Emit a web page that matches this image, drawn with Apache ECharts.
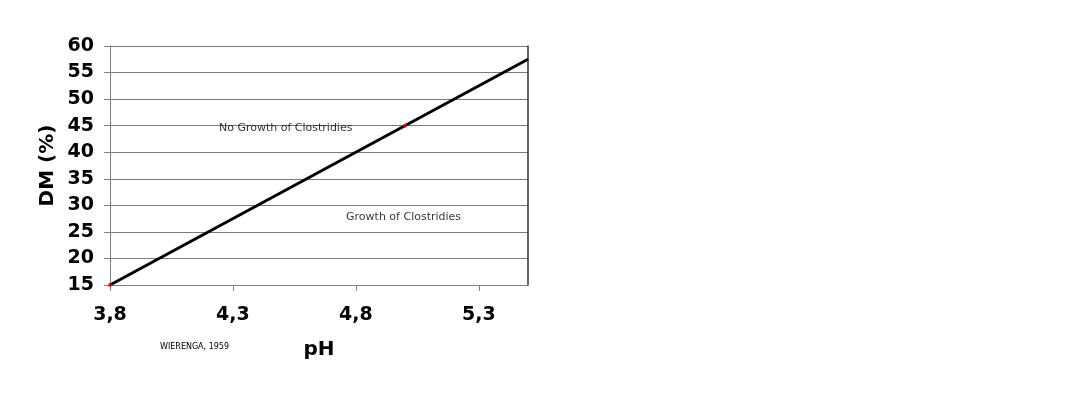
<!DOCTYPE html>
<html>
<head>
<meta charset="utf-8">
<script src="https://cdn.jsdelivr.net/npm/echarts@6/dist/echarts.min.js"></script>
<style>html,body{margin:0;padding:0;background:#fff;}#c{width:1092px;height:410px;}</style>
</head>
<body>
<div id="c"></div>
<script>
// Data
const xTicks = [3.8, 4.3, 4.8, 5.3];
const yTicks = [15, 20, 25, 30, 35, 40, 45, 50, 55, 60];
const lineX = [3.8, 5.5];
const lineY = [15, 57.5];
const pointX = [3.8, 5.0];
const pointY = [15, 45];
const annotations = ["No Growth of Clostridies", "Growth of Clostridies"];
const annotX = [4.243, 4.76];
const annotY = [44.6, 27.8];
const xName = "pH";
const yName = "DM (%)";
const source = "WIERENGA, 1959";

const fmt = v => String(v).replace('.', ',');
const chart = echarts.init(document.getElementById('c'), null, {renderer: 'canvas'});
chart.setOption({
  animation: false,
  backgroundColor: '#fff',
  grid: {left: 110, right: 564, top: 46, bottom: 125, show: false},
  xAxis: {
    type: 'value', min: 3.8, max: 5.5,
    name: xName, nameLocation: 'middle', nameGap: 55,
    nameTextStyle: {fontFamily: 'DejaVu Sans', fontWeight: 'bold', fontSize: 20, color: '#000'},
    axisLine: {show: true, onZero: false, lineStyle: {color: '#808080', width: 1}},
    axisTick: {show: true, length: 6, customValues: xTicks, lineStyle: {color: '#808080'}},
    axisLabel: {customValues: xTicks, formatter: fmt, margin: 21, fontFamily: 'DejaVu Sans', fontWeight: 'bold', fontSize: 19, color: '#000'},
    splitLine: {show: false}
  },
  yAxis: [{
    type: 'value', min: 15, max: 60, interval: 5,
    name: yName, nameLocation: 'middle', nameGap: 52, nameRotate: 90,
    nameTextStyle: {fontFamily: 'DejaVu Sans', fontWeight: 'bold', fontSize: 20, color: '#000'},
    axisLine: {show: true, lineStyle: {color: '#808080', width: 1}},
    axisTick: {show: true, length: 6, lineStyle: {color: '#808080'}},
    axisLabel: {margin: 16, fontFamily: 'DejaVu Sans', fontWeight: 'bold', fontSize: 19, color: '#000'},
    splitLine: {show: true, lineStyle: {color: '#7a7a7a', width: 1}}
  }, {
    type: 'value', min: 15, max: 60, position: 'right',
    axisLine: {show: true, lineStyle: {color: '#333', width: 1.5}},
    axisTick: {show: false}, axisLabel: {show: false}, splitLine: {show: false}
  }],
  series: [{
    type: 'line', data: lineX.map((x, i) => [x, lineY[i]]),
    showSymbol: false, symbol: 'none',
    lineStyle: {color: '#000', width: 3}, z: 3
  }, {
    type: 'scatter', data: pointX.map((x, i) => [x, pointY[i]]),
    symbolSize: 4, itemStyle: {color: '#ff0000'}, z: 4
  }, {
    type: 'scatter', data: annotX.map((x, i) => [x, annotY[i]]),
    symbolSize: 0, z: 5,
    label: {
      show: true, position: 'right', distance: 0,
      formatter: p => annotations[p.dataIndex],
      fontFamily: 'DejaVu Sans', fontSize: 11, color: '#000'
    }
  }],
  graphic: [{
    type: 'text', left: 160, top: 343,
    style: {text: source, fontFamily: 'DejaVu Sans', fontSize: 8, fill: '#000'}
  }]
});
</script>
</body>
</html>
